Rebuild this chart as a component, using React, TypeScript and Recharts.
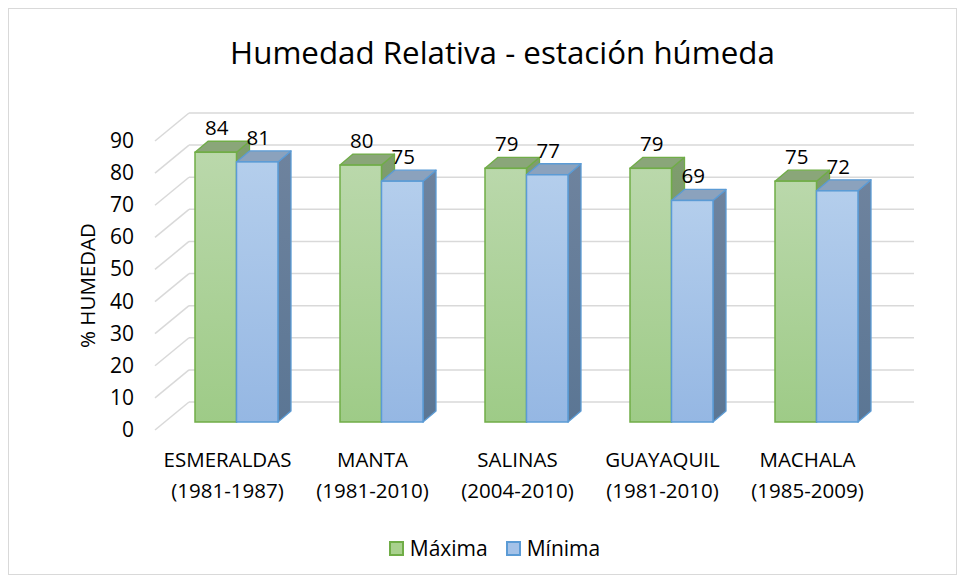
import React from 'react';
import { BarChart, Bar, XAxis, YAxis, CartesianGrid, LabelList } from 'recharts';

const categories = ['ESMERALDAS', 'MANTA', 'SALINAS', 'GUAYAQUIL', 'MACHALA'];
const periods = ['(1981-1987)', '(1981-2010)', '(2004-2010)', '(1981-2010)', '(1985-2009)'];
const maxima = [84, 80, 79, 79, 75];
const minima = [81, 75, 77, 69, 72];
const yTicks = [0, 10, 20, 30, 40, 50, 60, 70, 80, 90];

const data = categories.map((c, i) => ({ name: c, period: periods[i], maxima: maxima[i], minima: minima[i] }));

const FONT = '"Open Sans", sans-serif';
// 3D geometry
const BAR_DX = 10;   // bar front plane offset from label plane
const BAR_DY = -8;
const DEP_X = 13;    // bar depth
const DEP_Y = -11;
const WALL_DX = 35;  // back wall offset from label plane
const WALL_DY = -28;

type Palette = { id: string; frontTop: string; frontBot: string; top: string; sideTop: string; sideBot: string; stroke: string };
const greenPal: Palette = { id: 'g', frontTop: '#bad8ab', frontBot: '#9ecb87', top: '#8aa679', sideTop: '#7f9d6e', sideBot: '#6f9160', stroke: '#70ad47' };
const bluePal: Palette = { id: 'b', frontTop: '#b4ceec', frontBot: '#95b7e3', top: '#8ba2bd', sideTop: '#6e839e', sideBot: '#5b7694', stroke: '#5b9bd5' };

const make3D = (p: Palette) => (props: any) => {
  const { x, y, width, height } = props;
  if (x == null || y == null) return null;
  const fx = x + BAR_DX;
  const fy = y + BAR_DY;
  const w = width;
  const h = height;
  const topPts = `${fx},${fy} ${fx + DEP_X},${fy + DEP_Y} ${fx + w + DEP_X},${fy + DEP_Y} ${fx + w},${fy}`;
  const sidePts = `${fx + w},${fy} ${fx + w + DEP_X},${fy + DEP_Y} ${fx + w + DEP_X},${fy + h + DEP_Y} ${fx + w},${fy + h}`;
  return (
    <g>
      <defs>
        <linearGradient id={`front-${p.id}`} x1="0" y1="0" x2="0" y2="1">
          <stop offset="0%" stopColor={p.frontTop} />
          <stop offset="100%" stopColor={p.frontBot} />
        </linearGradient>
        <linearGradient id={`side-${p.id}`} x1="0" y1="0" x2="0" y2="1">
          <stop offset="0%" stopColor={p.sideTop} />
          <stop offset="100%" stopColor={p.sideBot} />
        </linearGradient>
      </defs>
      <polygon points={sidePts} fill={`url(#side-${p.id})`} stroke={p.stroke} strokeWidth={1.3} strokeLinejoin="round" />
      <polygon points={topPts} fill={p.top} stroke={p.stroke} strokeWidth={1.3} strokeLinejoin="round" />
      <rect x={fx} y={fy} width={w} height={h} fill={`url(#front-${p.id})`} stroke={p.stroke} strokeWidth={1.5} />
    </g>
  );
};

const GreenBar = make3D(greenPal);
const BlueBar = make3D(bluePal);

const valueLabel = (props: any) => {
  const { x, y, width, value } = props;
  return (
    <text x={x + width / 2 + BAR_DX + 1} y={y + BAR_DY - 17} textAnchor="middle" fontFamily={FONT} fontSize={20.5} fill="#000">
      {value}
    </text>
  );
};

const XTick = (props: any) => {
  const { x, y, index } = props;
  return (
    <g>
      <text x={x + 1} y={y + 29} textAnchor="middle" fontFamily={FONT} fontSize={20.5} fill="#000">{categories[index]}</text>
      <text x={x + 1} y={y + 60} textAnchor="middle" fontFamily={FONT} fontSize={20.5} fill="#000">{periods[index]}</text>
    </g>
  );
};

const YTick = (props: any) => {
  const { x, y, payload } = props;
  return (
    <text x={x} y={y + 7} textAnchor="end" fontFamily={FONT} fontSize={21} fill="#000">{payload.value}</text>
  );
};

const gridLine = (props: any) => {
  const { x1, x2, y1, key } = props;
  return (
    <g key={key}>
      <line x1={x1 + WALL_DX} y1={y1 + WALL_DY} x2={x2 + WALL_DX} y2={y1 + WALL_DY} stroke="#d9d9d9" strokeWidth={1.5} />
      <line x1={x1 + 1} y1={y1} x2={x1 + WALL_DX} y2={y1 + WALL_DY} stroke="#d9d9d9" strokeWidth={1.5} />
    </g>
  );
};

const YLabel = (props: any) => {
  const vb = props.viewBox || {};
  const cx = vb.x + 3;
  const cy = vb.y + vb.height / 2;
  return (
    <text x={cx} y={cy} transform={`rotate(-90 ${cx} ${cy})`} textAnchor="middle" dominantBaseline="central" fontFamily={FONT} fontSize={20.5} fill="#000">
      % HUMEDAD
    </text>
  );
};

export default function App() {
  return (
    <div style={{ position: 'relative', width: 947, height: 565, border: '1px solid #d9d9d9', background: '#fff' }}>
      <div style={{ position: 'absolute', left: 0, width: 947, top: 23, textAlign: 'center', fontFamily: FONT, fontSize: 31.3, color: '#000', paddingLeft: 40, boxSizing: 'border-box', lineHeight: '40px' }}>
        Humedad Relativa - estación húmeda
      </div>
      <BarChart
        width={947}
        height={565}
        data={data}
        margin={{ top: 132, right: 77, left: 75, bottom: 64 }}
        barGap={0}
        barSize={41.5}
      >
        <CartesianGrid horizontal={gridLine} vertical={false} />
        <XAxis dataKey="name" axisLine={false} tickLine={false} height={80} tick={<XTick />} interval={0} />
        <YAxis
          domain={[0, 90]}
          ticks={yTicks}
          axisLine={false}
          tickLine={false}
          tickSize={0}
          tickMargin={20}
          width={70}
          tick={<YTick />}
          label={<YLabel />}
          interval={0}
        />
        <Bar dataKey="maxima" name="Máxima" shape={GreenBar} isAnimationActive={false}>
          <LabelList dataKey="maxima" content={valueLabel} />
        </Bar>
        <Bar dataKey="minima" name="Mínima" shape={BlueBar} isAnimationActive={false}>
          <LabelList dataKey="minima" content={valueLabel} />
        </Bar>
      </BarChart>
      <div style={{ position: 'absolute', top: 528, left: 0, width: 947, display: 'flex', justifyContent: 'center', paddingLeft: 24, boxSizing: 'border-box', fontFamily: FONT, fontSize: 21, color: '#000', lineHeight: '22px' }}>
        <span style={{ display: 'flex', alignItems: 'center', marginRight: 18 }}>
          <span style={{ width: 11, height: 11, background: '#a9d18e', border: '2px solid #70ad47', marginRight: 6 }} />
          Máxima
        </span>
        <span style={{ display: 'flex', alignItems: 'center' }}>
          <span style={{ width: 11, height: 11, background: '#a4c2e8', border: '2px solid #5b9bd5', marginRight: 6 }} />
          Mínima
        </span>
      </div>
    </div>
  );
}
